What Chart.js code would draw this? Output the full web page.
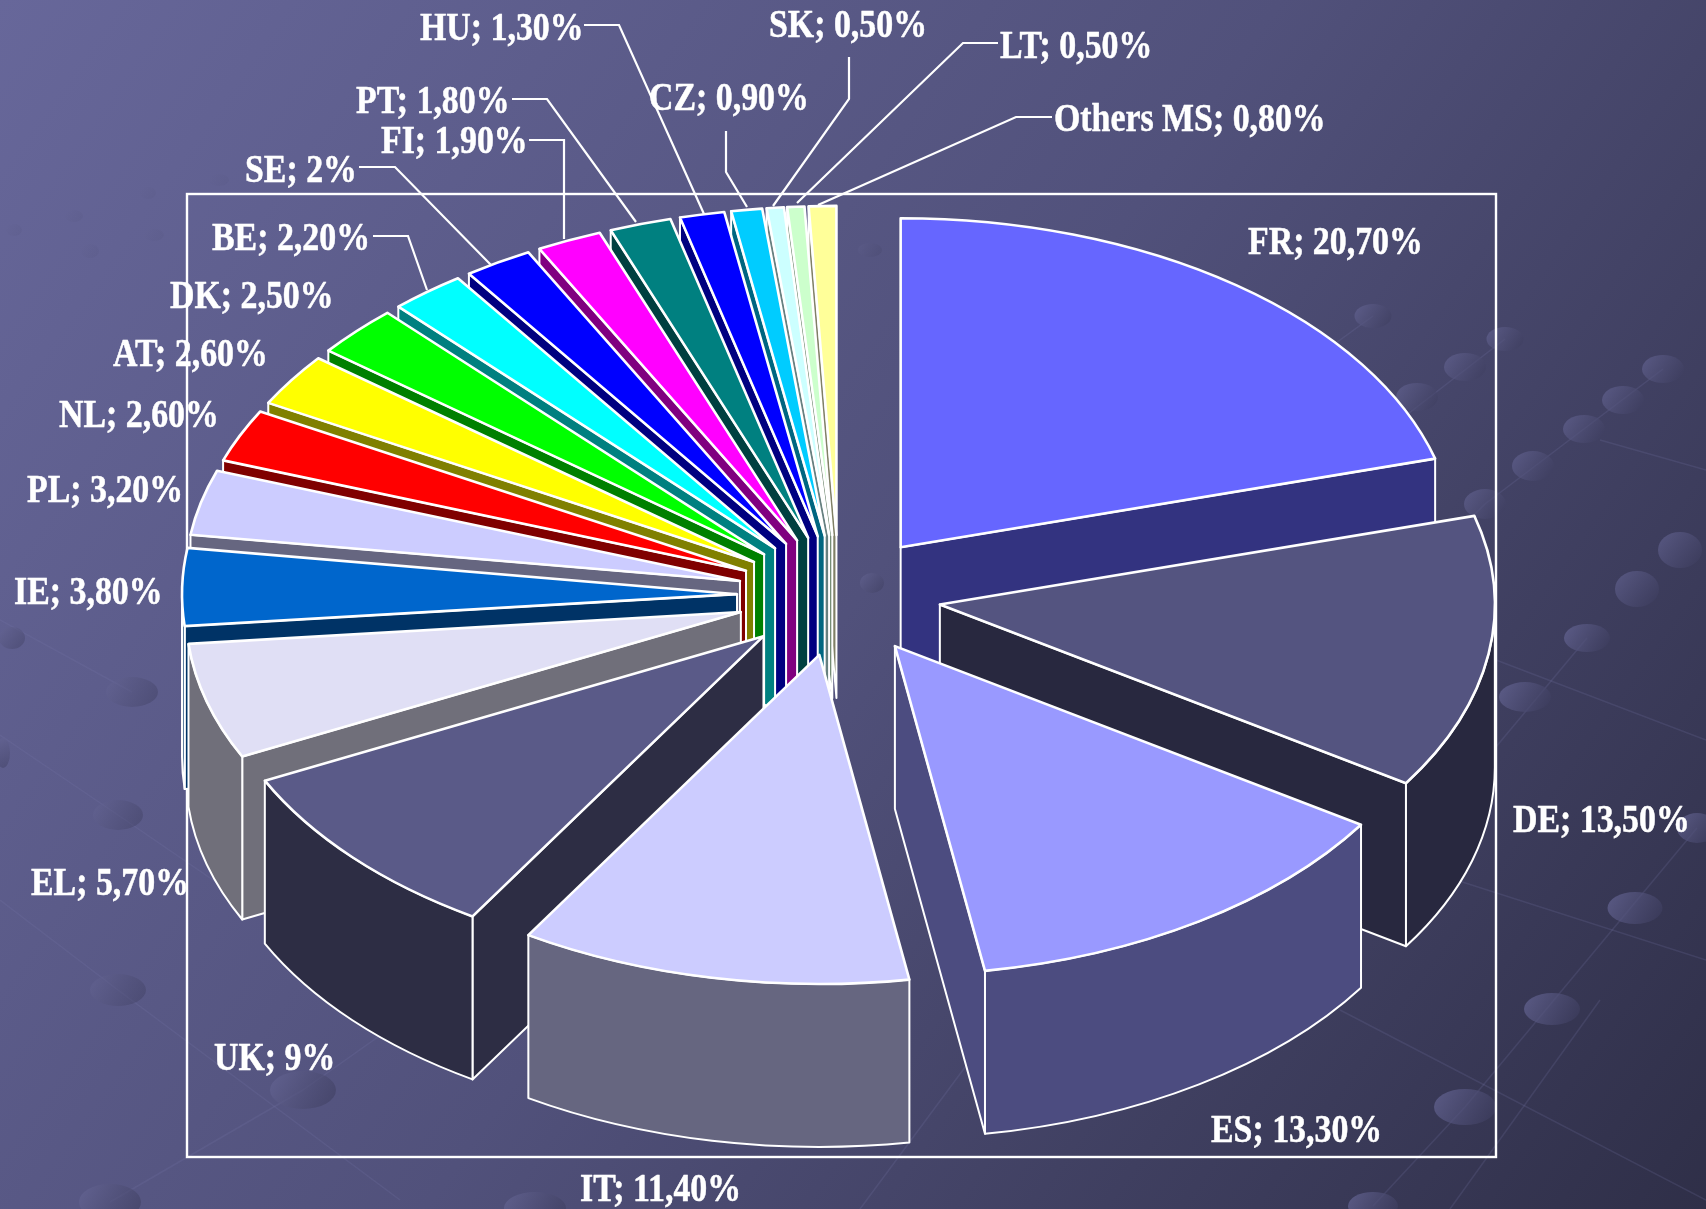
<!DOCTYPE html>
<html>
<head>
<meta charset="utf-8">
<title>Share by member state</title>
<script src="https://cdn.jsdelivr.net/npm/chart.js@4/dist/chart.umd.min.js"></script>
<style>html,body{margin:0;padding:0;background:#4a4a70}canvas{display:block}</style>
</head>
<body>
<canvas id="c" width="1706" height="1209"></canvas>
<script>
// ---- data ----
const categories = ['FR','DE','ES','IT','UK','EL','IE','PL','NL','AT','DK','BE','SE','FI','PT','HU','CZ','SK','LT','Others MS'];
const shares = [20.7,13.5,13.3,11.4,9,5.7,3.8,3.2,2.6,2.6,2.5,2.2,2,1.9,1.8,1.3,0.9,0.5,0.5,0.8];
const topColors = ['#6666ff','#545480','#9999ff','#ccccff','#5a5a88','#e0dff5','#0066cc','#ccccff','#ff0000','#ffff00','#00ff00','#00ffff','#0000ff','#ff00ff','#008080','#0000ff','#00ccff','#ccffff','#ccffcc','#ffff99'];
const wallColors = ['#333380','#28283f','#4c4c80','#666680','#2d2d44','#706f7a','#003366','#666680','#800000','#808000','#008000','#008080','#000080','#800080','#004040','#000080','#006680','#668080','#668066','#808066'];

// ---- layout (not data) ----
const labelX = [1248,1513,1211,580,214,31,14,27,59,113,170,212,245,381,356,420,649,769,1000,1054];
const labelY = [254,832,1142,1201,1070,895,604,502,427,366,308,250,182,153,113,40,110,37,58,131];
const leaders = [
  [[584,25],[619,25],[704,214]],
  [[512,99],[547,99],[636,222]],
  [[529,140],[564,140],[564,239]],
  [[359,167],[395,167],[491,265]],
  [[373,236],[408,236],[427,290]],
  [[726,131],[726,172],[747,207]],
  [[849,57],[849,99],[773,206]],
  [[998,43],[963,43],[797,203]],
  [[1052,117],[1016,117],[818,205]]
];
const plotBox = [187,194,1496,1157];
const tilt = 0.593, explode = 102, depth = 163, pieRadius = 555;

// ---- backdrop decoration ----
const bgDots = [[1373,316,37,12,.8],[1505,339,37,12,.8],[1465,367,42,14,.8],[1417,397,42,14,.8],[1663,369,42,14,.8],[1623,400,42,14,.8],
 [1584,429,42,14,.8],[1533,466,42,15,.8],[1485,504,42,15,.8],[1680,550,44,18,.8],[1637,589,44,18,.8],[1587,638,46,14,.9],[1525,697,52,15,.9],
 [1697,828,40,15,.9],[1635,908,55,16,.9],[1552,1009,56,16,.9],[1465,1107,62,18,.9],[1373,1206,50,14,.9],[12,638,26,11,.6],[132,692,52,15,.6],
 [3,753,14,15,.6],[118,815,50,15,.6],[118,990,56,16,.6],[303,1090,66,19,.8],[110,1202,62,18,.8],[535,1208,62,16,.8],
 [74,216,18,6,.12],[14,230,16,6,.12],[154,235,20,6,.12],[90,251,18,7,.12],[148,193,16,6,.1],[219,180,20,6,.1],[870,250,24,7,.3],[872,583,24,10,.7],[950,290,20,7,.3]];
const bgLines = [[1663,369,1485,504],[1485,504,1290,700],[1373,316,1230,420],[1505,339,1400,420],[1697,828,1465,1107],[1465,1107,1373,1206],
 [1587,638,1460,790],[132,692,0,620],[118,815,0,735],[118,815,330,960],[118,990,0,900],[118,990,400,1200],[303,1090,110,1202],[303,1090,600,880],
 [1300,830,1706,960],[1340,1010,1706,1200],[1496,660,1706,740],[1600,440,1706,470],[860,1209,1000,1020],[1450,1209,1600,1000]];

function rgbaFade(a,c){return 'rgba('+c[0]+','+c[1]+','+c[2]+','+a+')';}

const backdrop = {
  id:'backdrop',
  beforeDraw(chart){
    const ctx = chart.ctx, W = chart.width, H = chart.height;
    const g = ctx.createLinearGradient(0,0,W,H);
    g.addColorStop(0,'#67679a'); g.addColorStop(.5,'#51517b'); g.addColorStop(1,'#2f2f48');
    ctx.save();
    ctx.fillStyle = g; ctx.fillRect(0,0,W,H);
    ctx.strokeStyle = 'rgba(120,120,170,.2)'; ctx.lineWidth = 1.5;
    bgLines.forEach(l=>{ctx.beginPath();ctx.moveTo(l[0],l[1]);ctx.lineTo(l[2],l[3]);ctx.stroke();});
    bgDots.forEach(d=>{
      const gr = ctx.createLinearGradient(d[0]-d[2]/2,d[1]-d[3],d[0]+d[2]/2,d[1]+d[3]);
      gr.addColorStop(0,rgbaFade(.8*d[4],[104,104,152])); gr.addColorStop(1,rgbaFade(.7*d[4],[58,58,90]));
      ctx.fillStyle = gr; ctx.beginPath(); ctx.ellipse(d[0],d[1],d[2]/2,d[3],0,0,Math.PI*2); ctx.fill();
    });
    ctx.strokeStyle='#ffffff'; ctx.lineWidth=2.4;
    ctx.strokeRect(plotBox[0],plotBox[1],plotBox[2]-plotBox[0],plotBox[3]-plotBox[1]);
    ctx.restore();
  }
};

const pie3d = {
  id:'pie3d',
  beforeDatasetsDraw(chart){
    const ctx = chart.ctx, arcs = chart.getDatasetMeta(0).data;
    const order = arcs.map((a,i)=>i).sort((p,q)=>{
      const m=i=>Math.sin((arcs[i].startAngle+arcs[i].endAngle)/2);
      return m(p)-m(q);
    });
    ctx.save();
    ctx.lineJoin='round'; ctx.strokeStyle='#ffffff';
    order.forEach(i=>{
      const arc = arcs[i], a0=arc.startAngle, a1=arc.endAngle, mid=(a0+a1)/2, R=arc.outerRadius;
      const ax = arc.x + explode*Math.cos(mid), ay = arc.y + explode*tilt*Math.sin(mid);
      const ptx = t=>ax+R*Math.cos(t), pty=t=>ay+R*tilt*Math.sin(t);
      const radial = t=>{
        ctx.beginPath(); ctx.moveTo(ax,ay); ctx.lineTo(ptx(t),pty(t));
        ctx.lineTo(ptx(t),pty(t)+depth); ctx.lineTo(ax,ay+depth); ctx.closePath();
        ctx.fillStyle=wallColors[i]; ctx.fill(); ctx.lineWidth=2; ctx.stroke();
      };
      if(Math.cos(a0)<0) radial(a0);
      if(Math.cos(a1)>0) radial(a1);
      const r0=Math.max(a0,0), r1=Math.min(a1,Math.PI);
      if(r1>r0){
        ctx.beginPath();
        ctx.ellipse(ax,ay,R,R*tilt,0,r0,r1);
        ctx.lineTo(ptx(r1),pty(r1)+depth);
        ctx.ellipse(ax,ay+depth,R,R*tilt,0,r1,r0,true);
        ctx.closePath();
        ctx.fillStyle=wallColors[i]; ctx.fill(); ctx.lineWidth=2; ctx.stroke();
      }
      // top face: the library's own arc element, under the tilt transform
      ctx.save();
      ctx.translate(ax,ay); ctx.scale(1,tilt); ctx.translate(-arc.x,-arc.y);
      arc.draw(ctx);
      ctx.restore();
      ctx.beginPath(); ctx.moveTo(ax,ay);
      ctx.ellipse(ax,ay,R,R*tilt,0,a0,a1);
      ctx.closePath(); ctx.lineWidth=2.6; ctx.stroke();
    });
    ctx.restore();
    return false;
  },
  afterDraw(chart){
    const ctx = chart.ctx;
    ctx.save();
    ctx.strokeStyle='#ffffff'; ctx.lineWidth=2.2;
    leaders.forEach(l=>{
      ctx.beginPath(); l.forEach((p,k)=>k?ctx.lineTo(p[0],p[1]):ctx.moveTo(p[0],p[1])); ctx.stroke();
    });
    ctx.fillStyle='#ffffff'; ctx.textAlign='left'; ctx.textBaseline='alphabetic';
    ctx.font="bold 39px 'Liberation Serif'";
    ctx.lineWidth=.5; ctx.lineJoin='round';
    categories.forEach((c,i)=>{
      const v = shares[i], txt = c+'; '+(Number.isInteger(v)?String(v):v.toFixed(2).replace('.',','))+'%';
      ctx.save(); ctx.translate(labelX[i],labelY[i]); ctx.scale(.868,1); ctx.fillText(txt,0,0); ctx.strokeText(txt,0,0); ctx.restore();
    });
    ctx.restore();
  }
};

new Chart(document.getElementById('c'),{
  type:'pie',
  data:{labels:categories,datasets:[{data:shares,backgroundColor:topColors,borderWidth:0}]},
  options:{
    responsive:false,animation:false,radius:pieRadius,
    layout:{padding:{left:0,right:28,top:0,bottom:18}},
    plugins:{legend:{display:false},tooltip:{enabled:false}}
  },
  plugins:[backdrop,pie3d]
});
</script>
</body>
</html>
